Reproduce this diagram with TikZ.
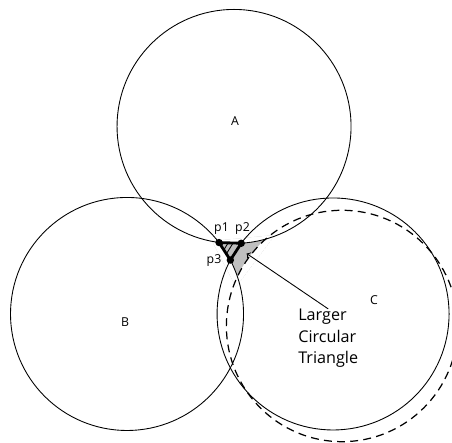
\documentclass[tikz,border=0pt]{standalone}
\usepackage{fontspec}
\setmainfont{Open Sans}

\tikzset{
  ring/.style={line width=0.5pt},
  shifted/.style={line width=0.7pt,dash pattern=on 4.5pt off 3pt},
  smalltxt/.style={font=\fontsize{7}{8}\selectfont,inner sep=0pt},
  edge/.style={line width=1.6pt,line join=round}
}

\begin{document}
\begin{tikzpicture}[scale=0.02]
\clip (0,0) rectangle (452,442);
% circle centres
\coordinate (ca) at (234,315.5);
\coordinate (cb) at (127,128);
\coordinate (cc) at (333,128);
\coordinate (cd) at (342,116);
% corner points
\coordinate (p1) at (219,199.4);
\coordinate (p2) at (241.2,198.7);
\coordinate (p3) at (230.3,181.9);
\coordinate (tip) at (246.5,188.5);
% larger circular triangle
\begin{scope}
\clip (212,201) -- (275,207) -- (236,155) -- cycle;
\fill[gray!50] (212,201) -- (275,207) -- (236,155) -- cycle;
\fill[white] (ca) circle (117) (cb) circle (116.5) (cd) circle (115.7);
\end{scope}
\begin{scope}
\clip (p1) -- (p2) -- (p3) -- cycle;
\foreach \x in {224,229,234} {\draw[ring] ({\x-12},181) -- ({\x+4},207);}
\end{scope}
\draw[ring] (ca) circle (117);
\draw[ring] (cb) circle (116.5);
\draw[ring] (cc) circle (116);
\draw[shifted] (cd) circle (115.7);
\draw[edge] (p1) -- (p2) -- (p3) -- cycle;
\foreach \p in {p1,p2,p3} {\fill (\p) circle (3.7);}
\node[smalltxt] (la) at (235,321) {A};
\node[smalltxt] (lb) at (125,120.3) {B};
\node[smalltxt] (lc) at (374,142) {C};
\node[smalltxt] (l1) at (221.5,213) {p1};
\node[smalltxt] (l2) at (242.5,213) {p2};
\node[smalltxt] (l3) at (214,181) {p3};
\node[right,inner sep=0pt,align=left,font=\fontsize{9.2}{12.2}\selectfont] (big) at (298,103.5) {Larger\\Circular\\Triangle};
\draw[ring,->] ([xshift=-3.5pt,yshift=3pt]big.north) -- (tip);
\end{tikzpicture}
\end{document}
